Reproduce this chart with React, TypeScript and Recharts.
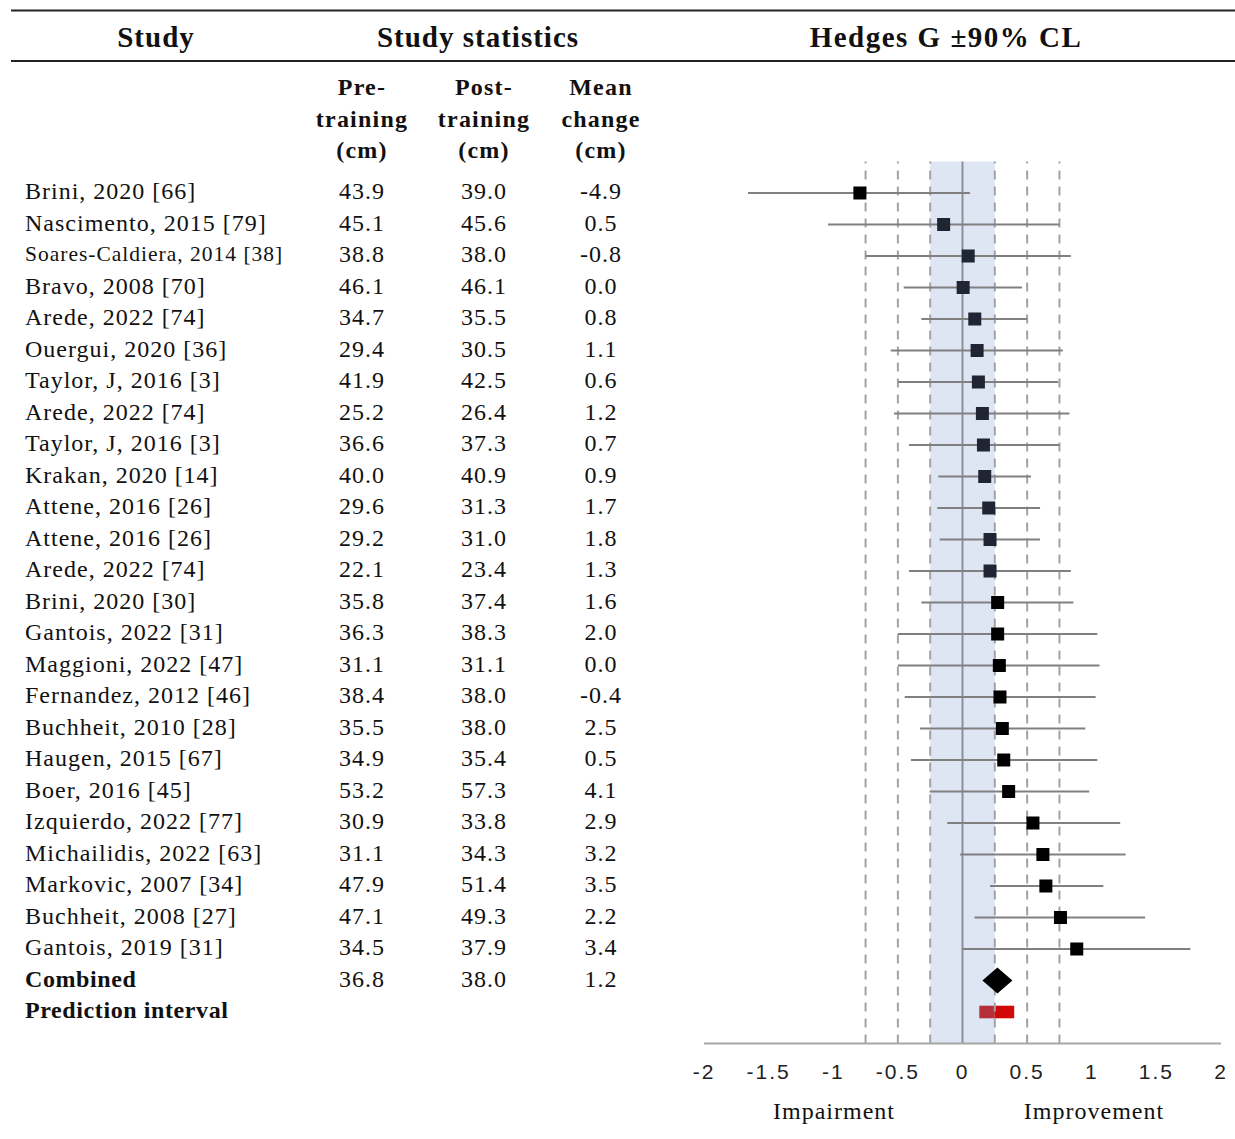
import {
  ErrorBar,
  ReferenceArea,
  ReferenceLine,
  Scatter,
  ScatterChart,
  XAxis,
  YAxis,
} from 'recharts'

const studies = [
  'Brini, 2020 [66]',
  'Nascimento, 2015 [79]',
  'Soares-Caldiera, 2014 [38]',
  'Bravo, 2008 [70]',
  'Arede, 2022 [74]',
  'Ouergui, 2020 [36]',
  'Taylor, J, 2016 [3]',
  'Arede, 2022 [74]',
  'Taylor, J, 2016 [3]',
  'Krakan, 2020 [14]',
  'Attene, 2016 [26]',
  'Attene, 2016 [26]',
  'Arede, 2022 [74]',
  'Brini, 2020 [30]',
  'Gantois, 2022 [31]',
  'Maggioni, 2022 [47]',
  'Fernandez, 2012 [46]',
  'Buchheit, 2010 [28]',
  'Haugen, 2015 [67]',
  'Boer, 2016 [45]',
  'Izquierdo, 2022 [77]',
  'Michailidis, 2022 [63]',
  'Markovic, 2007 [34]',
  'Buchheit, 2008 [27]',
  'Gantois, 2019 [31]',
]
const preTraining = [43.9, 45.1, 38.8, 46.1, 34.7, 29.4, 41.9, 25.2, 36.6, 40.0, 29.6, 29.2, 22.1, 35.8, 36.3, 31.1, 38.4, 35.5, 34.9, 53.2, 30.9, 31.1, 47.9, 47.1, 34.5]
const postTraining = [39.0, 45.6, 38.0, 46.1, 35.5, 30.5, 42.5, 26.4, 37.3, 40.9, 31.3, 31.0, 23.4, 37.4, 38.3, 31.1, 38.0, 38.0, 35.4, 57.3, 33.8, 34.3, 51.4, 49.3, 37.9]
const meanChange = [-4.9, 0.5, -0.8, 0.0, 0.8, 1.1, 0.6, 1.2, 0.7, 0.9, 1.7, 1.8, 1.3, 1.6, 2.0, 0.0, -0.4, 2.5, 0.5, 4.1, 2.9, 3.2, 3.5, 2.2, 3.4]
const hedgesG = [-0.794, -0.146, 0.044, 0.005, 0.095, 0.113, 0.123, 0.154, 0.162, 0.172, 0.203, 0.213, 0.213, 0.272, 0.272, 0.285, 0.29, 0.308, 0.319, 0.357, 0.545, 0.622, 0.645, 0.758, 0.884]
const lowerCL = [-1.66, -1.04, -0.75, -0.455, -0.318, -0.555, -0.499, -0.53, -0.414, -0.188, -0.195, -0.177, -0.414, -0.318, -0.5, -0.5, -0.447, -0.329, -0.399, -0.254, -0.118, -0.018, 0.213, 0.093, 0.0]
const upperCL = [0.057, 0.75, 0.838, 0.46, 0.5, 0.776, 0.74, 0.827, 0.75, 0.53, 0.6, 0.6, 0.838, 0.858, 1.043, 1.06, 1.03, 0.95, 1.043, 0.98, 1.22, 1.262, 1.09, 1.413, 1.763]

const combinedPre = 36.8
const combinedPost = 38.0
const combinedChange = 1.2
const combinedG = 0.27
const predictionLow = 0.13
const predictionHigh = 0.4

const xTicks = [-2, -1.5, -1, -0.5, 0, 0.5, 1, 1.5, 2]
const thresholds = [-0.75, -0.5, -0.25, 0.25, 0.5, 0.75]
const trivialBand = 0.25

const W = 1235
const H = 1139
const SERIF = '"Liberation Serif", "Times New Roman", serif'
const SANS = '"Liberation Sans", Arial, sans-serif'

const combinedRow = studies.length
const predictionRow = studies.length + 1
const rowTicks = Array.from({ length: studies.length + 2 }, (_, i) => i)

const studyPoints = studies.map((name, i) => ({
  name,
  row: i,
  g: hedgesG[i],
  ci: [hedgesG[i] - lowerCL[i], upperCL[i] - hedgesG[i]],
}))
const combinedPoint = [{ row: combinedRow, g: combinedG }]

function SquareMark(props: any) {
  const { cx, cy, payload } = props
  const inBand = Math.abs(payload.g) <= trivialBand
  return (
    <rect
      x={cx - 6.5}
      y={cy - 6.5}
      width={13}
      height={13}
      fill={inBand ? '#1f2533' : '#000'}
    />
  )
}

function DiamondMark(props: any) {
  const { cx, cy } = props
  return (
    <polygon
      points={`${cx - 15},${cy} ${cx},${cy - 13} ${cx + 15},${cy} ${cx},${cy + 13}`}
      fill="#000"
    />
  )
}

function RowLabel(props: any) {
  const { payload } = props
  const y = props.y - 2
  const i = payload.value as number
  const txt = {
    fontFamily: SERIF,
    fill: '#111',
    dominantBaseline: 'central' as const,
  }
  if (i === combinedRow || i === predictionRow) {
    const bold = { ...txt, fontSize: 24, fontWeight: 700, letterSpacing: 0.6 }
    return (
      <g>
        <text x={25} y={y} {...bold}>
          {i === combinedRow ? 'Combined' : 'Prediction interval'}
        </text>
        {i === combinedRow && (
          <>
            <text x={362} y={y} textAnchor="middle" {...txt} fontSize={24} letterSpacing={1}>
              {combinedPre.toFixed(1)}
            </text>
            <text x={484} y={y} textAnchor="middle" {...txt} fontSize={24} letterSpacing={1}>
              {combinedPost.toFixed(1)}
            </text>
            <text x={601} y={y} textAnchor="middle" {...txt} fontSize={24} letterSpacing={1}>
              {combinedChange.toFixed(1)}
            </text>
          </>
        )}
      </g>
    )
  }
  const small = studies[i].length > 24
  return (
    <g>
      <text x={25} y={y} {...txt} fontSize={small ? 21.5 : 24} letterSpacing={1}>
        {studies[i]}
      </text>
      <text x={362} y={y} textAnchor="middle" {...txt} fontSize={24} letterSpacing={1}>
        {preTraining[i].toFixed(1)}
      </text>
      <text x={484} y={y} textAnchor="middle" {...txt} fontSize={24} letterSpacing={1}>
        {postTraining[i].toFixed(1)}
      </text>
      <text x={601} y={y} textAnchor="middle" {...txt} fontSize={24} letterSpacing={1}>
        {meanChange[i].toFixed(1)}
      </text>
    </g>
  )
}

function Header() {
  const bold = { fontFamily: SERIF, fontWeight: 700, fill: '#111', textAnchor: 'middle' as const }
  const colHead = (x: number, lines: string[]) =>
    lines.map((s, k) => (
      <text key={s} x={x} y={95 + k * 31.5} fontSize={24} letterSpacing={1.2} {...bold}>
        {s}
      </text>
    ))
  return (
    <svg
      width={W}
      height={H}
      style={{ position: 'absolute', left: 0, top: 0, pointerEvents: 'none' }}
    >
      <line x1={11} x2={W} y1={10.5} y2={10.5} stroke="#222" strokeWidth={2} />
      <line x1={11} x2={W} y1={61} y2={61} stroke="#222" strokeWidth={2} />
      <text x={156} y={47} fontSize={29} letterSpacing={1} {...bold}>Study</text>
      <text x={478} y={47} fontSize={29} letterSpacing={1} {...bold}>Study statistics</text>
      <text x={946} y={47} fontSize={29} letterSpacing={1.5} {...bold}>Hedges G ±90% CL</text>
      {colHead(362, ['Pre-', 'training', '(cm)'])}
      {colHead(484, ['Post-', 'training', '(cm)'])}
      {colHead(601, ['Mean', 'change', '(cm)'])}
      <text x={834} y={1119} fontSize={24} letterSpacing={1} fontFamily={SERIF} fill="#111" textAnchor="middle">
        Impairment
      </text>
      <text x={1094} y={1119} fontSize={24} letterSpacing={1} fontFamily={SERIF} fill="#111" textAnchor="middle">
        Improvement
      </text>
    </svg>
  )
}

export default function App() {
  return (
    <div style={{ position: 'absolute', left: 0, top: 0, width: W, height: H, background: '#fff' }}>
      <ScatterChart
        width={W}
        height={H}
        margin={{ top: 161.5, right: 14, bottom: 55.5, left: 0 }}
      >
        <XAxis
          type="number"
          dataKey="g"
          domain={[-2, 2]}
          ticks={xTicks}
          interval={0}
          allowDataOverflow
          axisLine={{ stroke: '#a6a6a6', strokeWidth: 2 }}
          tickLine={false}
          tickSize={0}
          tickMargin={21}
          height={40}
          tick={{ fontFamily: SANS, fontSize: 21, fill: '#222', letterSpacing: 2 }}
        />
        <YAxis
          type="number"
          dataKey="row"
          domain={[-1, predictionRow + 1]}
          reversed
          ticks={rowTicks}
          interval={0}
          width={704}
          axisLine={false}
          tickLine={false}
          tick={(p: any) => <RowLabel {...p} />}
        />
        <ReferenceArea
          x1={-trivialBand}
          x2={trivialBand}
          fill="#dee5f3"
          fillOpacity={1}
          ifOverflow="visible"
        />
        {thresholds.map((t) => (
          <ReferenceLine
            key={t}
            x={t}
            stroke="#a3a3a3"
            strokeWidth={2}
            strokeDasharray="9 7"
          />
        ))}
        <ReferenceLine x={0} stroke="#8a8f99" strokeWidth={2} />
        <ReferenceArea
          x1={predictionLow}
          x2={Math.min(trivialBand, predictionHigh)}
          y1={predictionRow - 0.2}
          y2={predictionRow + 0.2}
          fill="#b5303a"
          fillOpacity={1}
        />
        <ReferenceArea
          x1={trivialBand}
          x2={predictionHigh}
          y1={predictionRow - 0.2}
          y2={predictionRow + 0.2}
          fill="#d00808"
          fillOpacity={1}
        />
        <Scatter data={studyPoints} shape={SquareMark} isAnimationActive={false}>
          <ErrorBar
            dataKey="ci"
            direction="x"
            width={0}
            stroke="#808080"
            strokeWidth={2}
            isAnimationActive={false}
          />
        </Scatter>
        <Scatter data={combinedPoint} shape={DiamondMark} isAnimationActive={false} />
      </ScatterChart>
      <Header />
    </div>
  )
}
